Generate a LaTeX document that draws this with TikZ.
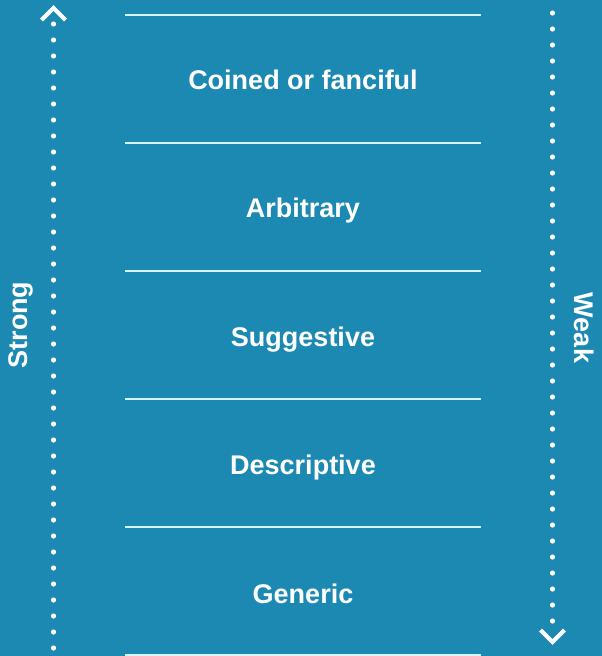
\documentclass[tikz,border=0pt]{standalone}
\usepackage{fontspec}
\setmainfont{Liberation Sans}
\usetikzlibrary{positioning}

\definecolor{markblue}{RGB}{27,137,177}
\definecolor{rulecyan}{RGB}{215,245,255}

\begin{document}
\begin{tikzpicture}[x=1pt,y=-1pt,node distance=128.5pt,
  every node/.style={text=white,inner sep=0pt,text height=19.4pt,text depth=0pt,
    font=\fontsize{27}{32}\selectfont\bfseries},
  rule/.style={draw=rulecyan,line width=1.3pt},
  dotline/.style={draw=white,line width=5.2pt,line cap=round,dash pattern=on 0pt off 16pt},
  chevron/.style={draw=white,line width=4pt,line join=miter}]
  \fill[markblue] (0,0) rectangle (602,656);

  \node (coined) at (303,79.5){Coined or fanciful};
  \node[below of =coined](arbitrary){Arbitrary};
  \node[below of =arbitrary](suggestive){Suggestive};
  \node[below of =suggestive](descriptive){Descriptive};
  \node[below of =descriptive](generic){Generic};

  \node[rotate=90] (strong) at (18,325){Strong};
  \node[rotate=-90] (weak) at (584,328){Weak};

  \coordinate (a0) at (125,15);  \coordinate (b0) at (481,15);
  \coordinate (a1) at (125,143); \coordinate (b1) at (481,143);
  \coordinate (a2) at (125,271); \coordinate (b2) at (481,271);
  \coordinate (a3) at (125,399); \coordinate (b3) at (481,399);
  \coordinate (a4) at (125,527); \coordinate (b4) at (481,527);
  \coordinate (a5) at (125,655); \coordinate (b5) at (481,655);

  \draw[rule](a0)--(b0);
  \draw[rule](a1)--(b1);
  \draw[rule](a2)--(b2);
  \draw[rule](a3)--(b3);
  \draw[rule](a4)--(b4);
  \draw[rule](a5)--(b5);

  % strong side, pointing up
  \coordinate (strongfoot) at (53.5,648);
  \coordinate (stronghead) at (53.5,23.5);
  \coordinate (strongtip) at (53.5,8);
  \draw[dotline](strongfoot)--(stronghead);
  \draw[chevron]([shift={(-12,12)}]strongtip)--(strongtip)--([shift={(12,12)}]strongtip);

  % weak side, pointing down
  \coordinate (weakhead) at (552.5,13);
  \coordinate (weakfoot) at (552.5,622);
  \coordinate (weaktip) at (552.5,642);
  \draw[dotline](weakhead)--(weakfoot);
  \draw[chevron]([shift={(-12,-12)}]weaktip)--(weaktip)--([shift={(12,-12)}]weaktip);
\end{tikzpicture}
\end{document}
